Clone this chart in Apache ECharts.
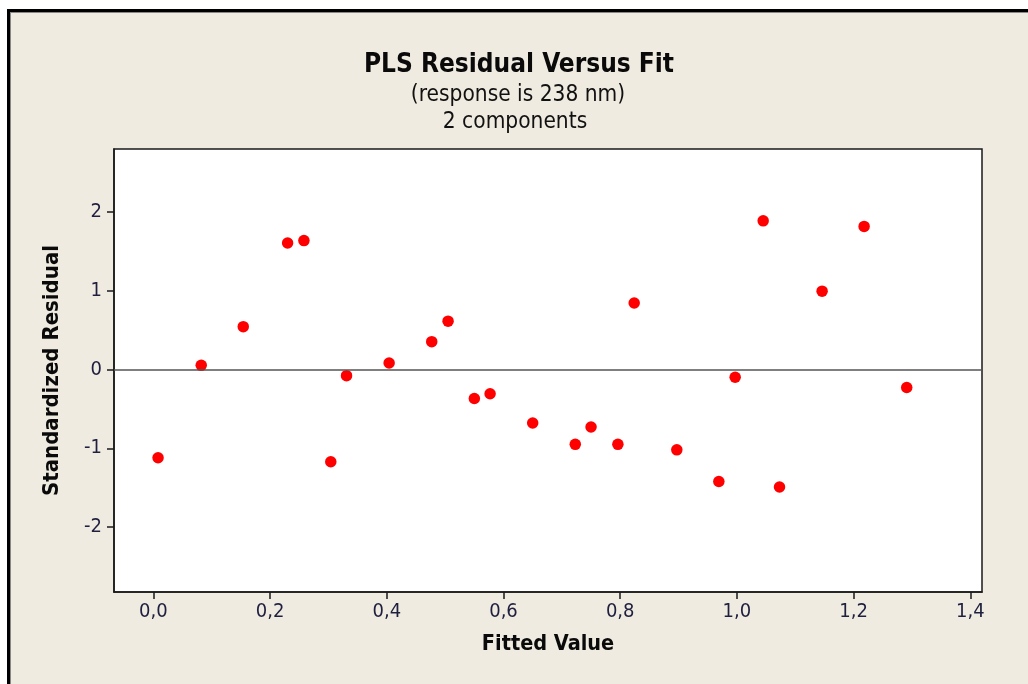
<!DOCTYPE html>
<html>
<head>
<meta charset="utf-8">
<script src="https://cdn.jsdelivr.net/npm/echarts@6/dist/echarts.min.js"></script>
<style>
html,body{margin:0;padding:0;background:#ffffff;}
#chart{width:1028px;height:684px;}
</style>
</head>
<body>
<div id="chart"></div>
<script>
const fittedValues = [0.008, 0.082, 0.154, 0.230, 0.258, 0.304, 0.331, 0.404, 0.477, 0.505, 0.550, 0.577, 0.650, 0.723, 0.750, 0.796, 0.824, 0.897, 0.969, 0.997, 1.045, 1.073, 1.146, 1.218, 1.291];
const stdResiduals = [-1.12, 0.05, 0.54, 1.60, 1.63, -1.17, -0.08, 0.08, 0.35, 0.61, -0.37, -0.31, -0.68, -0.95, -0.73, -0.95, 0.84, -1.02, -1.42, -0.10, 1.88, -1.49, 0.99, 1.81, -0.23];
const xTicks = [0, 0.2, 0.4, 0.6, 0.8, 1.0, 1.2, 1.4];
const yTicks = [-2, -1, 0, 1, 2];
const titleText = 'PLS Residual Versus Fit';
const subtitleLines = ['(response is 238 nm)', '2 components'];
const xName = 'Fitted Value';
const yName = 'Standardized Residual';

const FONT = '"DejaVu Sans Condensed", "DejaVu Sans", sans-serif';
const points = fittedValues.map((x, i) => [x, stdResiduals[i]]);
const chart = echarts.init(document.getElementById('chart'));
chart.setOption({
  backgroundColor: '#efebe1',
  animation: false,
  title: [
    {text: titleText, left: 514, textAlign: 'center', top: 45, textStyle: {fontFamily: FONT, fontSize: 26, fontWeight: 'bold', color: '#0a0a0a', lineHeight: 30}},
    {text: subtitleLines[0], left: 513, textAlign: 'center', top: 78, textStyle: {fontFamily: FONT, fontSize: 22.5, fontWeight: 'normal', color: '#111', lineHeight: 24}},
    {text: subtitleLines[1], left: 510, textAlign: 'center', top: 105, textStyle: {fontFamily: FONT, fontSize: 22.5, fontWeight: 'normal', color: '#111', lineHeight: 24}}
  ],
  grid: {left: 114, top: 149, right: 46, bottom: 92, show: true, backgroundColor: '#ffffff', borderColor: '#1a1a1a', borderWidth: 1.5},
  xAxis: {
    type: 'value', min: -0.0675, max: 1.42,
    name: xName, nameLocation: 'middle', nameGap: 41,
    nameTextStyle: {fontFamily: FONT, fontSize: 21.5, fontWeight: 'bold', color: '#0a0a0a'},
    axisLine: {show: true, onZero: false, lineStyle: {color: '#1a1a1a', width: 1.5}},
    axisTick: {show: true, inside: false, length: 7, customValues: xTicks, lineStyle: {color: '#1a1a1a', width: 1.5}},
    axisLabel: {customValues: xTicks, margin: 10, fontFamily: FONT, fontSize: 20, color: '#1f1f3f',
      formatter: v => v.toFixed(1).replace('.', ',')},
    splitLine: {show: false}
  },
  yAxis: {
    type: 'value', min: -2.82, max: 2.79,
    name: yName, nameLocation: 'middle', nameGap: 51, nameRotate: 90,
    nameTextStyle: {fontFamily: FONT, fontSize: 22, fontWeight: 'bold', color: '#0a0a0a'},
    axisLine: {show: true, onZero: false, lineStyle: {color: '#1a1a1a', width: 1.5}},
    axisTick: {show: true, inside: false, length: 7, customValues: yTicks, lineStyle: {color: '#1a1a1a', width: 1.5}},
    axisLabel: {customValues: yTicks, margin: 12, fontFamily: FONT, fontSize: 20, color: '#1f1f3f',
      formatter: v => String(v)},
    splitLine: {show: false}
  },
  series: [{
    type: 'scatter',
    data: points,
    symbol: 'circle',
    symbolSize: 11.5,
    itemStyle: {color: '#ff0000', opacity: 1},
    markLine: {
      silent: true, symbol: ['none', 'none'], label: {show: false},
      lineStyle: {color: '#555555', width: 1.5, type: 'solid'},
      data: [{yAxis: 0}]
    }
  }],
  graphic: [
    {type: 'rect', shape: {x: 0, y: 0, width: 1028, height: 9}, style: {fill: '#ffffff'}, silent: true},
    {type: 'rect', shape: {x: 0, y: 0, width: 7, height: 684}, style: {fill: '#ffffff'}, silent: true},
    {type: 'rect', shape: {x: 7, y: 9, width: 1021, height: 3}, style: {fill: '#000000'}, silent: true},
    {type: 'rect', shape: {x: 7, y: 9, width: 3, height: 675}, style: {fill: '#000000'}, silent: true},
    {type: 'rect', shape: {x: 10, y: 12, width: 1018, height: 1}, style: {fill: '#888888'}, silent: true},
    {type: 'rect', shape: {x: 10, y: 12, width: 1, height: 672}, style: {fill: '#888888'}, silent: true}
  ]
});
</script>
</body>
</html>
